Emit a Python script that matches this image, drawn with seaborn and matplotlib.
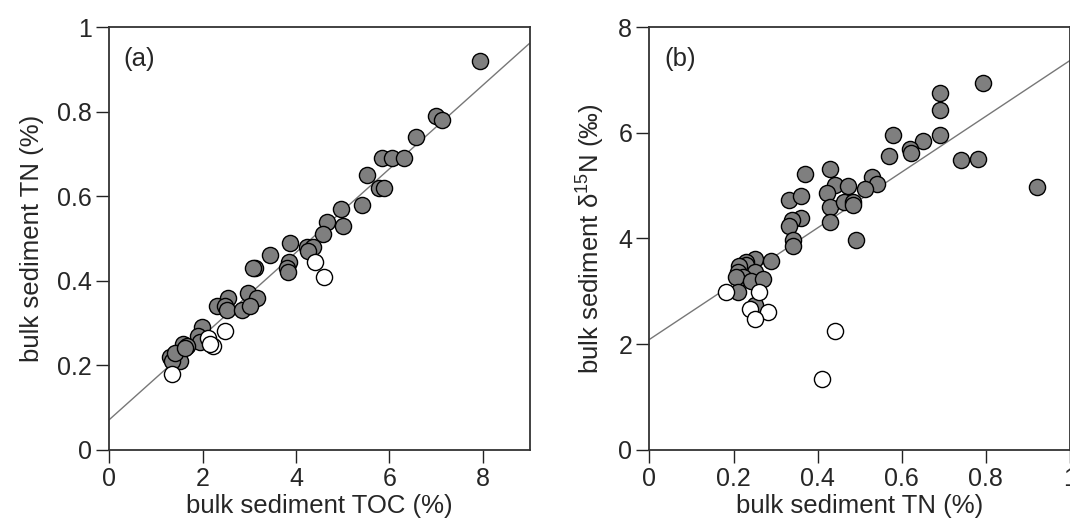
import numpy as np
import pandas as pd
import seaborn as sns
import matplotlib.pyplot as plt

# values
toc_filled = [7.93, 6.99, 7.12, 6.56, 5.83, 6.05, 6.32, 5.51, 5.77, 5.88, 5.41, 4.96, 5.00, 4.66, 4.57,
              3.87, 3.44, 4.23, 4.36, 4.25, 3.85, 3.12, 3.08, 3.80, 3.83, 2.54, 2.31, 2.48, 2.52, 2.84,
              2.97, 3.16, 3.01, 1.99, 1.90, 1.94, 1.58, 1.67, 1.47, 1.30, 1.52, 1.35, 1.40, 1.62]
tn_filled_a = [0.92, 0.79, 0.78, 0.74, 0.69, 0.69, 0.69, 0.65, 0.62, 0.62, 0.58, 0.57, 0.53, 0.54, 0.51,
               0.49, 0.46, 0.48, 0.48, 0.47, 0.445, 0.43, 0.43, 0.43, 0.42, 0.36, 0.34, 0.34, 0.33, 0.33,
               0.37, 0.36, 0.34, 0.29, 0.27, 0.255, 0.25, 0.245, 0.23, 0.22, 0.21, 0.21, 0.23, 0.24]
toc_open = [1.35, 2.12, 2.22, 2.48, 4.40, 4.59, 2.15]
tn_open_a = [0.18, 0.265, 0.245, 0.28, 0.445, 0.41, 0.25]

tn_filled_b = [0.792, 0.690, 0.690, 0.690, 0.579, 0.651, 0.619, 0.621, 0.570, 0.740, 0.782, 0.921,
               0.371, 0.430, 0.332, 0.361, 0.440, 0.471, 0.421, 0.530, 0.541, 0.512, 0.430, 0.462,
               0.483, 0.483, 0.430, 0.361, 0.340, 0.332, 0.490, 0.341, 0.341, 0.250, 0.290, 0.229,
               0.230, 0.214, 0.210, 0.250, 0.222, 0.206, 0.242, 0.270, 0.210, 0.250]
d15n_filled = [6.94, 6.75, 6.44, 5.96, 5.96, 5.85, 5.70, 5.61, 5.56, 5.48, 5.51, 4.97,
               5.22, 5.31, 4.73, 4.80, 5.02, 5.00, 4.87, 5.17, 5.04, 4.93, 4.59, 4.70,
               4.70, 4.63, 4.32, 4.38, 4.35, 4.24, 3.97, 3.98, 3.85, 3.61, 3.58, 3.56,
               3.50, 3.47, 3.37, 3.37, 3.28, 3.27, 3.20, 3.23, 2.98, 2.74]
tn_open_b = [0.181, 0.260, 0.240, 0.282, 0.250, 0.440, 0.410]
d15n_open = [2.98, 2.99, 2.67, 2.60, 2.47, 2.25, 1.34]

# fitted lines (intercept, slope)
fit_a = (0.071, 0.099)
fit_b = (2.09, 5.28)

xticks_a = [0, 2, 4, 6, 8]
yticks_a = [0, 0.2, 0.4, 0.6, 0.8, 1]
yticklabels_a = ['0', '0.2', '0.4', '0.6', '0.8', '1']
xticks_b = [0, 0.2, 0.4, 0.6, 0.8, 1]
xticklabels_b = ['0', '0.2', '0.4', '0.6', '0.8', '1']
yticks_b = [0, 2, 4, 6, 8]

sns.set_theme(style='ticks')
plt.rcParams['font.family'] = ['Liberation Sans', 'DejaVu Sans']
plt.rcParams['mathtext.fontset'] = 'custom'
plt.rcParams['mathtext.rm'] = 'Liberation Sans'

fig = plt.figure(figsize=(10.7, 5.23), dpi=100)
ax1 = fig.add_axes([0.102, 0.140, 0.393, 0.808])
ax2 = fig.add_axes([0.607, 0.140, 0.393, 0.808])

gray = '#7f7f7f'
pt = dict(s=135, edgecolor='black', linewidth=1.0, zorder=3)
fs = 18

# panel a
ax1.axline((0, fit_a[0]), slope=fit_a[1], color='#777777', lw=1, zorder=2)
sns.scatterplot(x=toc_filled, y=tn_filled_a, color=gray, ax=ax1, **pt)
sns.scatterplot(x=toc_open, y=tn_open_a, color='white', ax=ax1, **pt)
ax1.set_xlim(0, 9)
ax1.set_ylim(0, 1)
ax1.set_xticks(xticks_a)
ax1.set_yticks(yticks_a)
ax1.set_yticklabels(yticklabels_a)
ax1.set_xlabel('bulk sediment TOC (%)', fontsize=fs + 0.5, labelpad=2)
ax1.set_ylabel('bulk sediment TN (%)', fontsize=fs + 0.5, labelpad=9)
ax1.text(0.035, 0.925, '(a)', transform=ax1.transAxes, fontsize=fs + 0.5, va='center')

# panel b
ax2.axline((0, fit_b[0]), slope=fit_b[1], color='#777777', lw=1, zorder=2)
sns.scatterplot(x=tn_filled_b, y=d15n_filled, color=gray, ax=ax2, **pt)
sns.scatterplot(x=tn_open_b, y=d15n_open, color='white', ax=ax2, **pt)
ax2.set_xlim(0, 1)
ax2.set_ylim(0, 8)
ax2.set_xticks(xticks_b)
ax2.set_xticklabels(xticklabels_b)
ax2.set_yticks(yticks_b)
ax2.set_xlabel('bulk sediment TN (%)', fontsize=fs + 0.5, labelpad=2)
ax2.set_ylabel('bulk sediment δ$^{15}$N (‰)', fontsize=fs + 0.5, labelpad=9)
ax2.text(0.035, 0.925, '(b)', transform=ax2.transAxes, fontsize=fs + 0.5, va='center')

for ax in (ax1, ax2):
    for sp in ax.spines.values():
        sp.set_color('#333333')
        sp.set_linewidth(1.3)
    ax.tick_params(direction='out', length=9.5, width=1, color='#222222', labelsize=fs, pad=3)

plt.savefig('out.png', dpi=100)
